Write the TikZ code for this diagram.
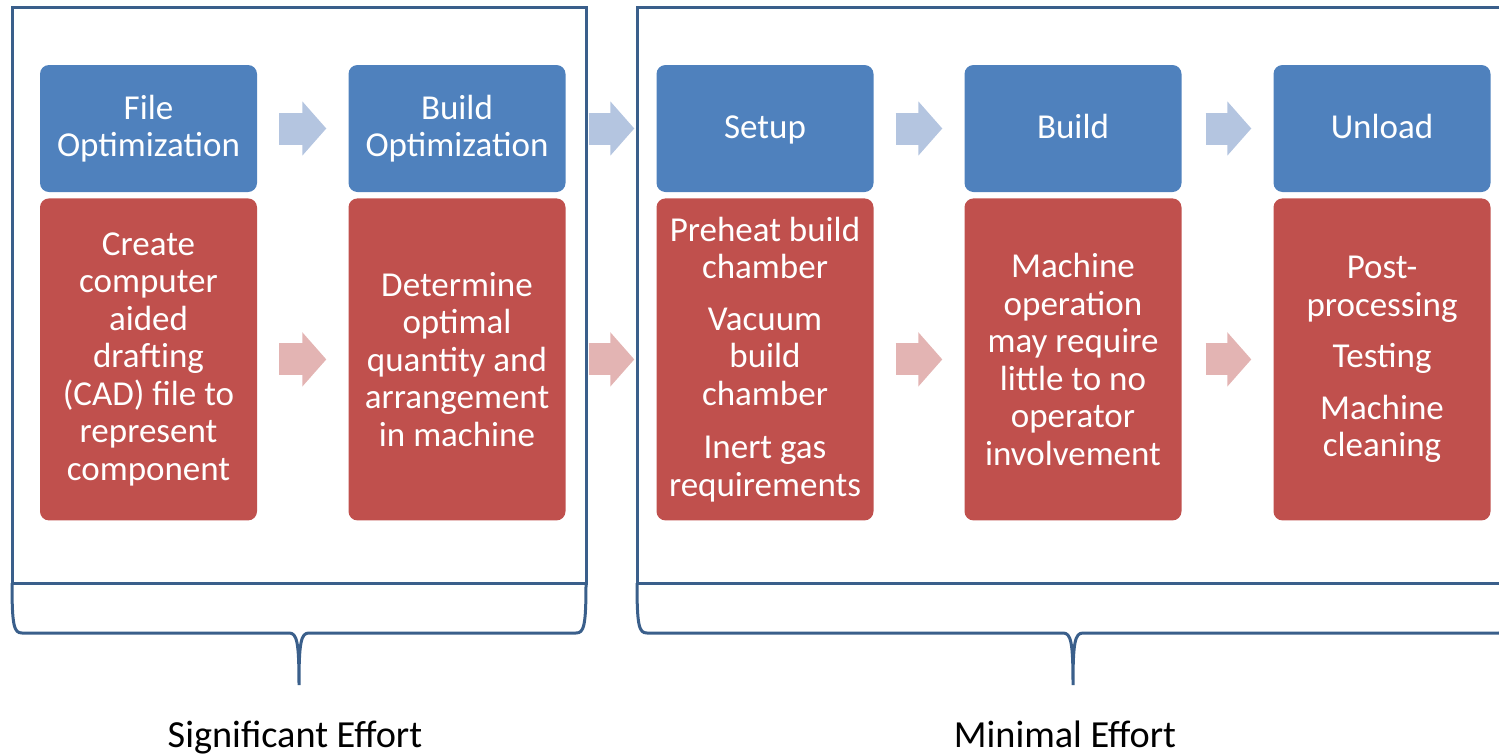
\documentclass[tikz,border=0pt]{standalone}
\usepackage{fontspec}
\setmainfont{Carlito}
\usetikzlibrary{arrows.meta,positioning}
\definecolor{stageblue}{HTML}{4F81BD}
\definecolor{taskred}{HTML}{C0504D}
\definecolor{framenavy}{HTML}{3A5F8B}
\definecolor{arrowblue}{HTML}{B4C5E0}
\definecolor{arrowpink}{HTML}{E3B4B3}
\newcommand\stagestrut{\rule[-9pt]{0pt}{37pt}}

\begin{document}
\begin{tikzpicture}[x=1pt,y=-1pt,
  stage/.style={fill=stageblue,rounded corners=9pt,minimum width=217pt,minimum height=127pt,
    inner sep=0pt,text=white,align=center,font=\fontsize{35}{37.5}\selectfont},
  task/.style={stage,fill=taskred,minimum height=322pt},
  flowblue/.style={arrowblue,line width=32pt,-{Triangle[length=24pt,width=53pt]}},
  flowpink/.style={flowblue,arrowpink},
  effortline/.style={framenavy,line width=3pt},
  effortlabel/.style={anchor=base,font=\fontsize{38.3}{40}\selectfont}]
 \useasboundingbox (0,0) rectangle (1499,753);
 % stages and what they involve
 \node[stage] (file) at (148.5,128.5) {File\\Optimization};
 \node[stage] (layout) at (457,128.5) {Build\\Optimization};
 \node[stage] (setup) at (765,128.5) {\stagestrut Setup};
 \node[stage] (build) at (1073,128.5) {\stagestrut Build};
 \node[stage] (unload) at (1382,128.5) {\stagestrut Unload};
 \node[task,below=6pt of file] (file-t) {Create\\computer\\aided\\drafting\\(CAD) file to\\represent\\component};
 \node[task,below=6pt of layout] (layout-t) {Determine\\optimal\\quantity and\\arrangement\\in machine};
 \node[task,below=6pt of setup] (setup-t) {Preheat build\\chamber\\[14pt]Vacuum\\build\\chamber\\[16pt]Inert gas\\requirements};
 \node[task,below=6pt of build] (build-t) {Machine\\operation\\may require\\little to no\\operator\\involvement};
 \node[task,below=6pt of unload] (unload-t) {Post-\\processing\\[14pt]Testing\\[14pt]Machine\\cleaning};
 % block arrows
 \draw[flowblue] ([xshift=22pt]file.east) -- ([xshift=-22pt]layout.west);
 \draw[flowblue] ([xshift=23pt]layout.east) -- ([xshift=-22pt]setup.west);
 \draw[flowblue] ([xshift=22pt]setup.east) -- ([xshift=-22pt]build.west);
 \draw[flowblue] ([xshift=24pt]build.east) -- ([xshift=-22pt]unload.west);
 \draw[flowpink] ([xshift=22pt]file-t.east) -- ([xshift=-22pt]layout-t.west);
 \draw[flowpink] ([xshift=23pt]layout-t.east) -- ([xshift=-22pt]setup-t.west);
 \draw[flowpink] ([xshift=22pt]setup-t.east) -- ([xshift=-22pt]build-t.west);
 \draw[flowpink] ([xshift=24pt]build-t.east) -- ([xshift=-22pt]unload-t.west);
 % frames and braces
 \draw[effortline] (12,7) rectangle (586,583);
 \draw[effortline] (637,7) rectangle (1509,583);
 \draw[effortline] (12,583) .. controls (12,626) and (14,633) .. (22,633) -- (289,633)
   .. controls (297,633) and (299,642) .. (299,685) .. controls (299,642) and (301,633) .. (309,633)
   -- (576,633) .. controls (584,633) and (586,626) .. (586,583);
 \draw[effortline] (637,583) .. controls (637,626) and (639,633) .. (647,633) -- (1063,633)
   .. controls (1071,633) and (1073,642) .. (1073,685) .. controls (1073,642) and (1075,633) .. (1083,633)
   -- (1499,633) .. controls (1507,633) and (1509,626) .. (1509,583);
 \node[effortlabel] (significant) at (295,747) {Significant Effort};
 \node[effortlabel] (minimal) at (1065,747) {Minimal Effort};
\end{tikzpicture}
\end{document}
